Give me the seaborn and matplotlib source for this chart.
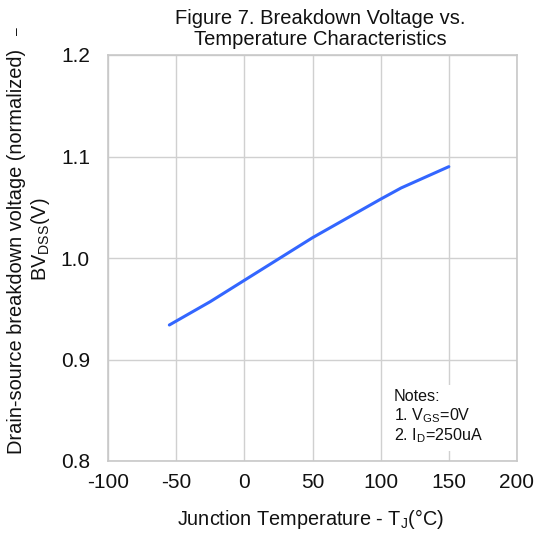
import matplotlib
matplotlib.use("Agg")
import matplotlib.pyplot as plt
import seaborn as sns
import pandas as pd

temperature = [-55, -25, 0, 25, 50, 75, 100, 115, 150]
bv_norm = [0.934, 0.957, 0.978, 0.999, 1.020, 1.039, 1.058, 1.069, 1.090]
x_ticks = [-100, -50, 0, 50, 100, 150, 200]
y_ticks = [0.8, 0.9, 1.0, 1.1, 1.2]

sns.set_theme(style="white")
plt.rcParams['font.family'] = ['Liberation Sans', 'DejaVu Sans']
plt.rcParams['mathtext.fontset'] = 'custom'
plt.rcParams['mathtext.rm'] = 'Liberation Sans'
plt.rcParams['mathtext.it'] = 'Liberation Sans'
plt.rcParams['mathtext.bf'] = 'Liberation Sans'

df = pd.DataFrame({"T": temperature, "BV": bv_norm})

fig = plt.figure(figsize=(5.35, 5.34), dpi=100)
ax = fig.add_axes([108/535, 1 - 461/534, (517-108)/535, (461-55)/534])

sns.lineplot(data=df, x="T", y="BV", ax=ax, color="#3366ff", linewidth=2.2)

ax.set_xlim(-100, 200)
ax.set_ylim(0.8, 1.2)
ax.set_xticks(x_ticks)
ax.set_yticks(y_ticks)
ax.set_xticklabels([str(v) for v in x_ticks], fontsize=15, color="#111111")
ax.set_yticklabels([f"{v:.1f}" for v in y_ticks], fontsize=15, color="#111111")
ax.tick_params(axis="y", length=0, pad=13)
ax.tick_params(axis="x", length=0, pad=9)
ax.grid(True, color="#d0d0d0", linewidth=1.0)
for s in ax.spines.values():
    s.set_color("#c8c8c8")
    s.set_linewidth(1.2)
ax.set_xlabel("")
ax.set_ylabel("")

fig.text(320/535, 1 - 29/534, "Figure 7. Breakdown Voltage vs.\nTemperature Characteristics",
         ha="center", va="center", fontsize=14.5, color="#111111", linespacing=1.12)
fig.text(311/535, 1 - 519/534, r"Junction Temperature - T$_{\mathregular{J}}$(°C)",
         ha="center", va="center", fontsize=14.3, color="#111111")
fig.text(17/535, 1 - 251/534, "Drain-source breakdown voltage (normalized)",
         ha="center", va="center", rotation=90, fontsize=14.4, color="#111111")
fig.text(17/535, 1 - 31/534, "–",
         ha="center", va="center", rotation=90, fontsize=10, color="#111111")
fig.text(40/535, 1 - 239/534, r"BV$_{\mathregular{DSS}}$(V)",
         ha="center", va="center", rotation=90, fontsize=14.4, color="#111111")

ax.text(0.699, 0.108, "Notes:\n1. V$_{\\mathregular{GS}}$=0V\n2. I$_{\\mathregular{D}}$=250uA",
        transform=ax.transAxes, ha="left", va="center", fontsize=11.6, color="#111111",
        linespacing=1.15,
        bbox=dict(facecolor="white", edgecolor="none", pad=4))

fig.savefig("out.png", dpi=100)
